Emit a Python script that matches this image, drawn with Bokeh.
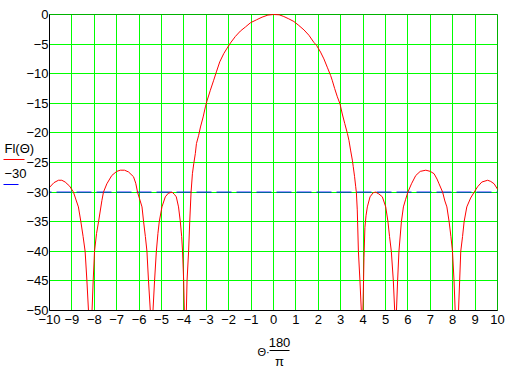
import numpy as np
from bokeh.plotting import figure
from bokeh.models import Range1d, FixedTicker, Label, Arrow, BoxAnnotation
from bokeh.embed import file_html
from bokeh.resources import INLINE

# ---- data ----
theta_deg = [
    -10.0, -9.8, -9.6, -9.45, -9.3, -9.1, -8.93, -8.8, -8.71, -8.6, -8.5, -8.41, -8.33, -8.26, -8.2,
    -8.1, -8.05, -7.99, -7.9, -7.81, -7.66, -7.59, -7.44, -7.22, -7.0, -6.84, -6.65, -6.47, -6.25,
    -6.15, -6.07, -5.95, -5.87, -5.8, -5.72, -5.65, -5.58, -5.5, -5.45,
    -5.38, -5.31, -5.23, -5.16, -5.1, -4.98, -4.83, -4.7, -4.53, -4.42, -4.34, -4.24, -4.16, -4.1,
    -4.06, -4.01, -3.98, -3.95,
    -3.89, -3.86, -3.79, -3.74, -3.68, -3.62, -3.56, -3.49, -3.44, -3.34, -3.26, -3.14, -3.04, -2.97,
    -2.82, -2.67, -2.55, -2.4, -2.22, -2.04, -1.92, -1.7, -1.48, -1.25, -1.03, -0.76, -0.51, -0.25, 0.0,
    0.25, 0.46, 0.68, 0.91, 1.13, 1.36, 1.58, 1.8, 1.92, 2.1, 2.25, 2.4, 2.55, 2.62, 2.73, 2.85, 2.97,
    3.07, 3.18, 3.3, 3.37, 3.44, 3.52, 3.56, 3.62, 3.67, 3.7, 3.74, 3.79, 3.86, 3.92, 3.95,
    3.99, 4.02, 4.04, 4.08, 4.13, 4.19, 4.31, 4.45, 4.56, 4.7, 4.86, 5.01, 5.11, 5.18, 5.26, 5.35,
    5.41, 5.45,
    5.49, 5.54, 5.6, 5.71, 5.8, 5.9, 6.0, 6.16, 6.35, 6.55, 6.8, 7.0, 7.17, 7.3, 7.39, 7.55, 7.65,
    7.74, 7.84, 7.92, 7.99, 8.06, 8.11, 8.17,
    8.26, 8.31, 8.36, 8.44, 8.51, 8.63, 8.8, 8.96, 9.11, 9.3, 9.56, 9.7, 9.85, 10.0,
]
f_db = [
    -29.2, -28.4, -28.0, -28.0, -28.3, -29.0, -30.0, -31.5, -32.5, -35.0, -37.5, -40.0, -45.0, -50.0, -58.0,
    -50.0, -45.0, -40.0, -37.0, -35.0, -31.4, -30.0, -28.6, -27.2, -26.5, -26.3, -26.3, -26.6, -27.4,
    -28.5, -30.0, -31.5, -32.5, -35.0, -37.5, -40.0, -45.0, -50.0, -58.0,
    -50.0, -45.0, -40.0, -37.0, -35.0, -32.5, -30.8, -30.2, -30.0, -30.4, -30.8, -32.5, -35.0, -37.5,
    -40.0, -45.0, -50.0, -58.0,
    -50.0, -45.0, -40.0, -35.0, -30.0, -26.9, -25.2, -23.5, -21.8, -20.4, -19.0, -17.3, -15.6, -14.6,
    -12.8, -11.1, -9.7, -8.0, -6.6, -5.5, -4.8, -3.7, -2.8, -2.1, -1.4, -0.9, -0.45, -0.1, 0.0,
    -0.05, -0.34, -0.73, -1.18, -1.85, -2.6, -3.5, -4.7, -5.2, -6.35, -7.5, -8.9, -10.3, -11.1, -12.5, -13.9, -15.1,
    -16.8, -18.4, -20.1, -21.3, -22.9, -24.6, -25.7, -27.4, -29.1, -30.1, -33.0, -40.0, -45.0, -50.0, -58.0,
    -50.0, -45.0, -41.0, -36.0, -34.0, -32.5, -30.8, -30.1, -30.0, -30.3, -30.8, -32.5, -35.0, -37.5, -40.0, -45.0,
    -50.0, -58.0,
    -50.0, -45.0, -40.0, -35.0, -32.5, -31.2, -30.0, -28.6, -27.2, -26.5, -26.3, -26.5, -26.9, -27.8, -28.6, -30.0, -31.5,
    -32.5, -35.0, -37.5, -40.0, -45.0, -50.0, -58.0,
    -50.0, -45.0, -40.0, -37.5, -35.0, -32.5, -31.0, -30.0, -29.1, -28.3, -28.0, -28.2, -28.6, -29.5,
]
level_db = -30
x_ticks = list(range(-10, 11))
y_ticks = list(range(-50, 1, 5))
curve_name = "Fl(Θ)"
level_name = "−30"


def lab(v):
    return str(v).replace("-", "−")


FONT = "Liberation Sans"
W, H = 512, 369
# pixel box of the plotting area inside the 512x369 canvas
PX_L, PX_R, PX_T, PX_B = 49, 497, 14, 310
x_lo, x_hi = x_ticks[0], x_ticks[-1]
y_lo, y_hi = y_ticks[0], y_ticks[-1]
sx = (x_hi - x_lo) / (PX_R - PX_L)
sy = (y_hi - y_lo) / (PX_B - PX_T)


def X(px):
    return x_lo + (px - PX_L) * sx


def Y(py):
    return y_hi - (py - PX_T) * sy


p = figure(width=W, height=H, output_backend="svg", toolbar_location=None, min_border=0,
           x_range=Range1d(X(0), X(W)), y_range=Range1d(Y(H), Y(0)))
p.background_fill_color = "white"
p.border_fill_color = "white"
p.outline_line_color = None

for g, t in ((p.xgrid, x_ticks), (p.ygrid, y_ticks)):
    g.ticker = FixedTicker(ticks=t)
    g.grid_line_color = "#00FF00"
    g.grid_line_width = 1
    g.grid_line_alpha = 1
p.xgrid.bounds = (x_lo, x_hi)
p.xgrid.cross_bounds = (y_lo, y_hi)
p.ygrid.bounds = (y_lo, y_hi)
p.ygrid.cross_bounds = (x_lo, x_hi)

for ax, t in ((p.xaxis, x_ticks), (p.yaxis, y_ticks)):
    ax.ticker = FixedTicker(ticks=t)
    ax.major_label_overrides = {v: lab(v) for v in t}
    ax.major_tick_line_color = None
    ax.minor_tick_line_color = None
    ax.major_tick_out = 0
    ax.major_tick_in = 0
    ax.axis_line_color = "black"
    ax.axis_line_width = 1
    ax.major_label_text_font = FONT
    ax.major_label_text_font_size = "13px"
    ax.major_label_text_color = "black"
p.xaxis.fixed_location = y_lo
p.xaxis.bounds = (x_lo, x_hi)
p.yaxis.fixed_location = x_lo
p.yaxis.bounds = (y_lo, y_hi)
p.xaxis.major_label_standoff = 4
p.yaxis.major_label_standoff = 1

p.add_layout(BoxAnnotation(left=x_lo, right=x_hi, bottom=y_lo, top=y_hi,
                           fill_color=None, fill_alpha=0, line_color="black",
                           line_width=1, level="underlay"))

p.line([x_lo, x_hi], [level_db, level_db], line_color="#0000FF", line_width=1,
       line_dash="15 5", line_dash_offset=13)
p.line(theta_deg, np.maximum(np.array(f_db), y_lo), line_color="#FF0000", line_width=1)


def text(s, px, py, size="13px", align="left"):
    p.add_layout(Label(x=X(px), y=Y(py), text=s, text_font=FONT, text_font_size=size,
                       text_align=align, text_baseline="middle", text_color="black"))


def hline(px0, px1, py, color):
    p.add_layout(Arrow(end=None, x_start=X(px0), y_start=Y(py), x_end=X(px1), y_end=Y(py),
                       line_color=color, line_width=1))


text(curve_name, 4, 147.5)
hline(3, 24, 159, "#FF0000")
text(level_name, 4, 172.5)
hline(3, 18, 184, "#0000FF")

text("Θ·", 257, 351, size="11px")
text("180", 279, 342, size="13px", align="center")
hline(269, 289, 350, "black")
text("π", 279, 361, size="13px", align="center")

open("out.html", "w").write(file_html(p, INLINE))
